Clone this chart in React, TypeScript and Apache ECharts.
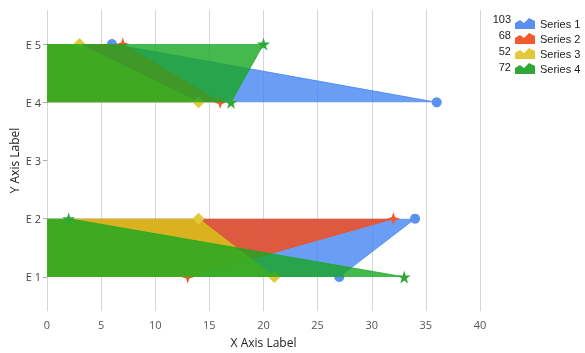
import React, { useEffect, useRef } from "react";
import * as echarts from "echarts";

const categories = ["E 1", "E 2", "E 3", "E 4", "E 5"];
const seriesNames = ["Series 1", "Series 2", "Series 3", "Series 4"];
const series1 = [27, 34, null, 36, 6];
const series2 = [13, 32, null, 16, 7];
const series3 = [21, 14, null, 14, 3];
const series4 = [33, 2, null, 17, 20];
const xTicks = { min: 0, max: 40, interval: 5 };

const colors = ["#4586f3", "#fa4a14", "#dac818", "#18a722"];
const markerColors = ["#5a90f0", "#f05a2c", "#e2c83a", "#30a838"];
const star5 = "path://M50,0 L61,35 L98,35 L68,57 L79,91 L50,70 L21,91 L32,57 L2,35 L39,35 Z";
const star4 = "path://M50,0 L63,37 L100,50 L63,63 L50,100 L37,63 L0,50 L37,37 Z";
const symbols = ["circle", star4, "diamond", star5];
const symbolSizes = [10, 13, 12, 13];
const legendIcon = "path://M0,12 L0,6 L5,3 L9,6 L14,1 L20,4 L20,12 Z";

export default function App() {
  const ref = useRef<HTMLDivElement>(null);
  useEffect(() => {
    if (!ref.current) return;
    const chart = echarts.init(ref.current, undefined, { renderer: "svg" });
    const all = [series1, series2, series3, series4];
    const sums = all.map((s) => s.reduce((a: number, v) => a + (v == null ? 0 : (v as number)), 0));
    const option: any = {
      animation: false,
      grid: [
        { left: 47, right: 105, top: 15, bottom: 47, outerBoundsMode: "none", containLabel: false },
        { left: 47, right: 105, top: 10, bottom: 42, outerBoundsMode: "none", containLabel: false },
      ],
      xAxis: [
        { type: "value", gridIndex: 0, min: xTicks.min, max: xTicks.max, interval: xTicks.interval, show: false },
        {
          type: "value",
          gridIndex: 1,
          min: xTicks.min,
          max: xTicks.max,
          interval: xTicks.interval,
          axisLine: { show: false },
          axisTick: { show: false },
          splitLine: { show: true, lineStyle: { color: "#d6d6d6", width: 1 } },
          axisLabel: { color: "#555", fontSize: 11, margin: 8, fontFamily: "Open Sans" },
          name: "X Axis Label",
          nameLocation: "middle",
          nameGap: 25,
          nameMoveOverlap: false,
          nameTextStyle: { color: "#222", fontSize: 12, fontFamily: "Open Sans" },
        },
      ],
      yAxis: [
        {
          type: "category",
          gridIndex: 0,
          data: categories,
          boundaryGap: true,
          axisLine: { show: false },
          axisTick: { show: true, alignWithLabel: true, length: 4, lineStyle: { color: "#aaa" } },
          axisLabel: { color: "#444", fontSize: 11, margin: 6, fontFamily: "Open Sans" },
          splitLine: { show: false },
          name: "Y Axis Label",
          nameLocation: "middle",
          nameGap: 27,
          nameMoveOverlap: false,
          nameRotate: 90,
          nameTextStyle: { color: "#222", fontSize: 12, fontFamily: "Open Sans" },
        },
        { type: "value", gridIndex: 1, show: false },
      ],
      legend: {
        orient: "vertical",
        left: 510,
        top: 13,
        itemWidth: 20,
        itemHeight: 12,
        itemGap: 4,
        textStyle: { color: "#222", fontSize: 11, fontFamily: "Liberation Sans" },
        data: seriesNames.map((n) => ({ name: n, icon: legendIcon })),
      },
      graphic: sums.map((s, i) => ({
        type: "text",
        right: 585 - 511,
        top: 13 + i * 16,
        style: { text: String(s), fill: "#222", fontSize: 11, fontFamily: "Liberation Sans", textAlign: "right" },
      })),
      series: all.map((d, i) => ({
        type: "line",
        name: seriesNames[i],
        xAxisIndex: 0,
        yAxisIndex: 0,
        data: d,
        connectNulls: false,
        symbol: symbols[i],
        symbolSize: symbolSizes[i],
        showSymbol: true,
        itemStyle: { color: markerColors[i], opacity: 1 },
        lineStyle: { color: colors[i], width: 1, opacity: 0.8 },
        areaStyle: { color: colors[i], opacity: 0.8 },
        z: 2 + i,
      })),
    };
    chart.setOption(option);
    return () => chart.dispose();
  }, []);
  return <div ref={ref} style={{ position: "fixed", left: 0, top: 0, width: 585, height: 353 }} />;
}
